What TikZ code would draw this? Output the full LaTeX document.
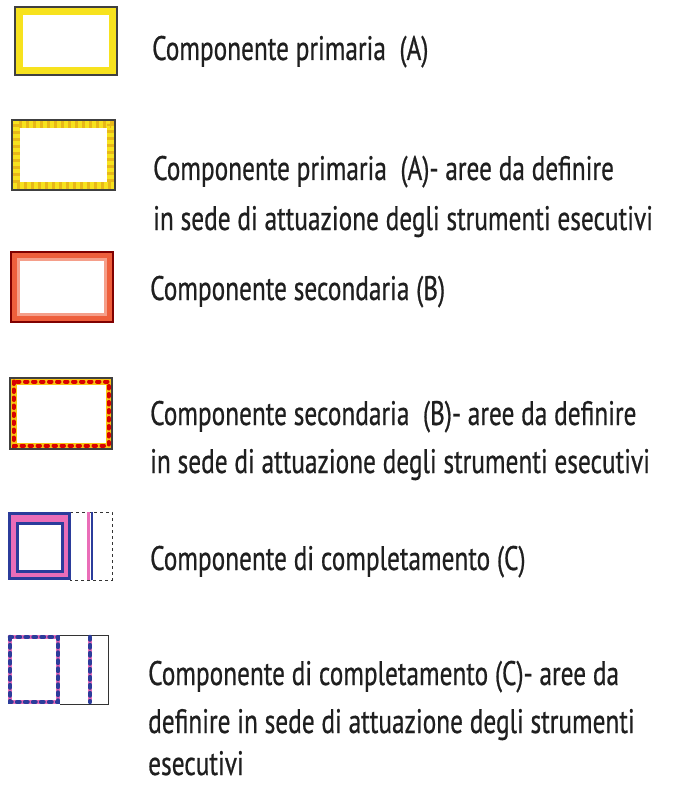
\documentclass[tikz,border=0pt]{standalone}
\usepackage{fontspec}
\setmainfont[FakeStretch=0.745,FakeBold=0.6]{PT Sans}
\begin{document}
\begin{tikzpicture}[x=1pt,y=-1pt,
  lbl/.style={anchor=base west,inner sep=0pt,font=\fontsize{34}{40}\selectfont,text=black!88},
  outl/.style={draw=black!75,line width=1.2pt},
  ]
\definecolor{yel}{HTML}{F7E21E}
\definecolor{yeld}{HTML}{E8B818}
\definecolor{ored}{HTML}{EE5F3C}
\definecolor{cblue}{HTML}{2B3C9B}
\definecolor{cpink}{HTML}{EA6DB8}
\useasboundingbox (0,0) rectangle (699,786);
\fill[white] (0,0) rectangle (699,786);

% A1
\draw[yel,line width=8pt] (19,11) rectangle (113,71);
\draw[outl] (15,7) rectangle (117,75);
% A2
\draw[yel,line width=8pt] (16,124) rectangle (111,186);
\draw[yeld,line width=8pt,dash pattern=on 3pt off 4pt] (16,124) rectangle (111,186);
\draw[outl] (12,120) rectangle (115,190);
% B1
\draw[ored!60,line width=9pt] (15.5,256.5) rectangle (108.5,317.5);
\draw[ored,line width=6pt] (14,255) rectangle (110,319);
\draw[draw=red!50!black,line width=1.2pt] (11,252) rectangle (113,322);
% B2
\draw[yel!70!orange,line width=6pt] (13.5,381.5) rectangle (108.5,445.5);
\draw[red!85!black,line width=4pt,dash pattern=on 2.5pt off 5.5pt,line cap=round] (13.5,381.5) rectangle (108.5,445.5);
\draw[outl] (10,378) rectangle (112,449);
% C1
\draw[black!80,line width=0.8pt,dashed] (70,512) -- (112,512) -- (112,580) -- (70,580);
\draw[cpink,line width=9pt] (13,517) rectangle (65.5,575.5);
\draw[cblue,line width=3pt] (9.5,513.5) rectangle (69,578.5);
\draw[cblue,line width=3pt] (17,523) rectangle (62,571);
\draw[cpink,line width=3pt] (88,512) -- (88,580);
\draw[cblue,line width=2pt] (91.5,512) -- (91.5,580);
% C2
\draw[black!80,line width=1pt] (60,635) -- (108,635) -- (108,704) -- (60,704);
\draw[cpink,line width=4pt] (10,637) rectangle (58,702);
\draw[cblue,line width=4.5pt,dash pattern=on 2.5pt off 5.5pt,line cap=round] (10,637) rectangle (58,702);
\draw[cpink,line width=4pt] (90,637) -- (90,702);
\draw[cblue,line width=4.5pt,dash pattern=on 2.5pt off 5.5pt,line cap=round] (90,637) -- (90,702);

% labels
\node[lbl] (t1) at (152,60) {Componente primaria\ \ (A)};
\node[lbl] (t2a) at (153,180) {Componente primaria\ \ (A)- aree da definire};
\node[lbl] (t2b) at (153,230) {in sede di attuazione degli strumenti esecutivi};
\node[lbl] (t3) at (150,300) {Componente secondaria (B)};
\node[lbl] (t4a) at (150,425) {Componente secondaria\ \ (B)- aree da definire};
\node[lbl] (t4b) at (150,473) {in sede di attuazione degli strumenti esecutivi};
\node[lbl] (t5) at (150,570) {Componente di completamento (C)};
\node[lbl] (t6a) at (148,685) {Componente di completamento (C)- aree da};
\node[lbl] (t6b) at (148,733) {definire in sede di attuazione degli strumenti};
\node[lbl] (t6c) at (148,775) {esecutivi};
\end{tikzpicture}
\end{document}
